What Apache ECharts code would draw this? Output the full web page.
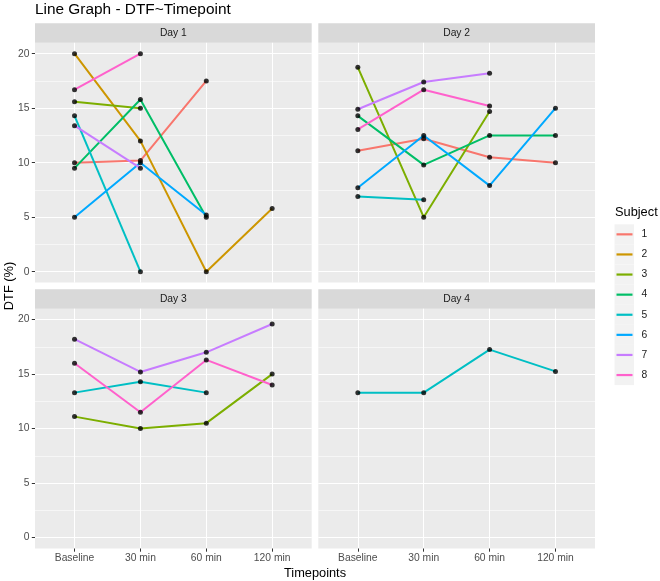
<!DOCTYPE html>
<html>
<head>
<meta charset="utf-8">
<script src="https://cdn.jsdelivr.net/npm/echarts@6/dist/echarts.min.js"></script>
<style>
html,body{margin:0;padding:0;background:#fff;}
#chart{width:660px;height:581px;}
</style>
</head>
<body>
<div id="chart"></div>
<script>
// ---- data ----
const timepoints = ['Baseline', '30 min', '60 min', '120 min'];
const subjects = ['1', '2', '3', '4', '5', '6', '7', '8'];
const days = ['Day 1', 'Day 2', 'Day 3', 'Day 4'];
const yTicks = [0, 5, 10, 15, 20];
const yMinorTicks = [2.5, 7.5, 12.5, 17.5];
const subjectColors = ['#F8766D', '#CD9600', '#7CAE00', '#00BE67', '#00BFC4', '#00A9FF', '#C77CFF', '#FF61CC'];

// rows = subjects 1..8, columns = timepoints (null = not measured)
const day1Values = [
  [10, 10.2, 17.5, null],
  [20, 12, 0, 5.8],
  [15.6, 15, null, null],
  [9.5, 15.8, 5.0, null],
  [14.3, 0, null, null],
  [5, 10, 5.2, null],
  [13.4, 9.5, null, null],
  [16.7, 20, null, null]
];
const day2Values = [
  [11.1, 12.2, 10.5, 10],
  [null, null, null, null],
  [18.75, 5, 14.7, null],
  [14.3, 9.8, 12.5, 12.5],
  [6.9, 6.6, null, null],
  [7.7, 12.5, 7.9, 15],
  [14.9, 17.4, 18.2, null],
  [13.05, 16.7, 15.2, null]
];
const day3Values = [
  [null, null, null, null],
  [null, null, null, null],
  [11.1, 10, 10.5, 15],
  [null, null, null, null],
  [13.3, 14.3, 13.3, null],
  [null, null, null, null],
  [18.2, 15.2, 17, 19.6],
  [16, 11.5, 16.3, 14]
];
const day4Values = [
  [null, null, null, null],
  [null, null, null, null],
  [null, null, null, null],
  [null, null, null, null],
  [13.3, 13.3, 17.25, 15.25],
  [null, null, null, null],
  [null, null, null, null],
  [null, null, null, null]
];
const dayValues = [day1Values, day2Values, day3Values, day4Values];

// ---- layout ----
const FONT = '"Liberation Sans", Arial, Helvetica, sans-serif';
const panelW = 276.7, panelH = 239.8, stripH = 19.5;
const lefts = [35, 318.3];
const stripTops = [23.3, 289.2];
const panels = [
  {l: lefts[0], st: stripTops[0], bottom: false, left: true},
  {l: lefts[1], st: stripTops[0], bottom: false, left: false},
  {l: lefts[0], st: stripTops[1], bottom: true, left: true},
  {l: lefts[1], st: stripTops[1], bottom: true, left: false}
];

const grids = [], xAxes = [], yAxes = [], series = [], graphics = [];

panels.forEach((p, g) => {
  grids.push({
    left: p.l, top: p.st + stripH, width: panelW, height: panelH,
    show: true, backgroundColor: '#EBEBEB', borderWidth: 0, containLabel: false
  });
  xAxes.push({
    type: 'value', gridIndex: g, min: -0.6, max: 3.6, position: 'bottom',
    axisLine: {show: false, onZero: false},
    axisTick: {show: p.bottom, customValues: [0, 1, 2, 3], length: 3.2, lineStyle: {color: '#333333', width: 1}},
    axisLabel: {show: p.bottom, customValues: [0, 1, 2, 3], formatter: v => timepoints[Math.round(v)],
      color: '#4D4D4D', fontSize: 10.3, fontFamily: FONT, margin: 4.5},
    splitLine: {show: true, lineStyle: {color: '#FFFFFF', width: 1.1}}
  });
  yAxes.push({
    type: 'value', gridIndex: g, min: -1, max: 21, position: 'left',
    axisLine: {show: false, onZero: false},
    axisTick: {show: p.left, customValues: yTicks, length: 3.2, lineStyle: {color: '#333333', width: 1}},
    axisLabel: {show: p.left, customValues: yTicks, color: '#4D4D4D', fontSize: 10.3, fontFamily: FONT, margin: 5.5},
    splitLine: {show: true, lineStyle: {color: '#FFFFFF', width: 1.1}},
    z: 1
  });
  yAxes.push({
    type: 'value', gridIndex: g, min: -1, max: 21, position: 'left',
    axisLine: {show: false, onZero: false},
    axisTick: {show: false, customValues: yMinorTicks},
    axisLabel: {show: false, customValues: yMinorTicks},
    splitLine: {show: true, lineStyle: {color: '#FFFFFF', width: 0.55}},
    z: 0
  });

  // strip
  graphics.push({
    type: 'rect', shape: {x: p.l, y: p.st, width: panelW, height: stripH},
    style: {fill: '#D9D9D9'}, silent: true
  });
  graphics.push({
    type: 'text', x: p.l + panelW / 2, y: p.st + stripH / 2,
    style: {text: days[g], fill: '#1A1A1A', font: '10.3px ' + FONT, align: 'center', verticalAlign: 'middle'},
    silent: true
  });

  const vals = dayValues[g];
  const pts = [];
  vals.forEach((row, s) => {
    const data = [];
    row.forEach((v, i) => { if (v !== null) { data.push([i, v]); pts.push([i, v]); } });
    if (data.length) {
      series.push({
        type: 'line', name: subjects[s], xAxisIndex: g, yAxisIndex: 2 * g,
        data: data, color: subjectColors[s], showSymbol: false, symbol: 'none',
        lineStyle: {width: 2, color: subjectColors[s]}, silent: true, animation: false, z: 2 + s * 0.01
      });
    }
  });
  series.push({
    type: 'scatter', xAxisIndex: g, yAxisIndex: 2 * g, data: pts,
    symbolSize: 5, itemStyle: {color: '#000000'}, silent: true, animation: false, z: 3
  });
});

// legend key backgrounds
const keyTop = 224.3, keyStep = 20.1;
subjects.forEach((s, i) => {
  graphics.push({
    type: 'rect', shape: {x: 614.5, y: keyTop + i * keyStep, width: 19.5, height: keyStep},
    style: {fill: '#F2F2F2'}, silent: true, z: -1
  });
});

// titles
graphics.push({type: 'text', x: 35, y: 9.5,
  style: {text: 'Line Graph - DTF~Timepoint', fill: '#000', font: '15.4px ' + FONT, align: 'left', verticalAlign: 'middle'}});
graphics.push({type: 'text', x: 315, y: 573,
  style: {text: 'Timepoints', fill: '#000', font: '12.8px ' + FONT, align: 'center', verticalAlign: 'middle'}});
graphics.push({type: 'text', x: 9.5, y: 286, rotation: Math.PI / 2,
  style: {text: 'DTF (%)', fill: '#000', font: '12.8px ' + FONT, align: 'center', verticalAlign: 'middle'}});
graphics.push({type: 'text', x: 615, y: 212,
  style: {text: 'Subject', fill: '#000', font: '12.8px ' + FONT, align: 'left', verticalAlign: 'middle'}});

const chart = echarts.init(document.getElementById('chart'), null, {renderer: 'canvas'});
chart.setOption({
  animation: false,
  backgroundColor: '#FFFFFF',
  grid: grids,
  xAxis: xAxes,
  yAxis: yAxes,
  legend: {
    data: subjects, orient: 'vertical', left: 616.5, top: keyTop, itemGap: 0,
    itemWidth: 16, itemHeight: 2.2, icon: 'rect', selectedMode: false,
    textStyle: {color: '#1A1A1A', fontSize: 10.3, fontFamily: FONT, lineHeight: keyStep, height: keyStep, padding: [0, 0, 0, 4]},
    padding: 0
  },
  graphic: graphics,
  series: series
});
</script>
</body>
</html>
